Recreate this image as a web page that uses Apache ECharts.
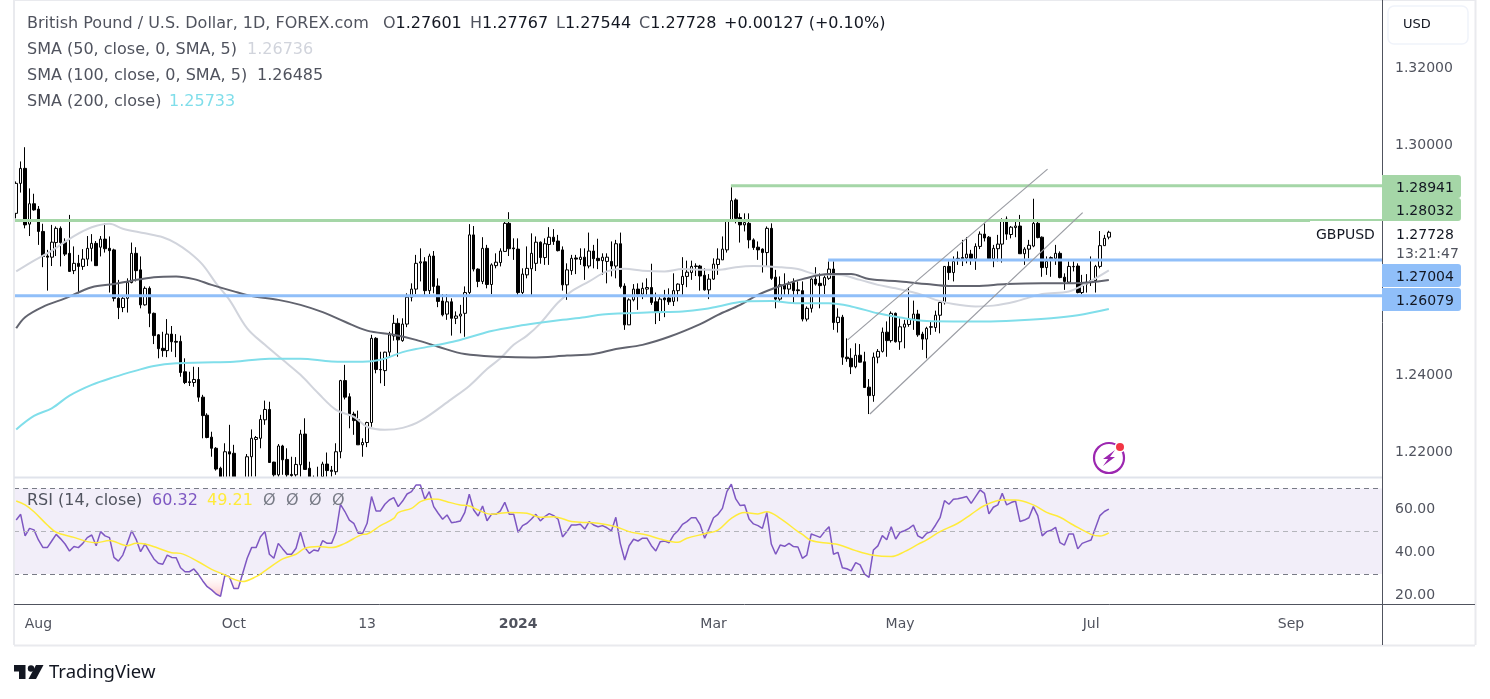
<!DOCTYPE html>
<html>
	<head>
		<meta charset="utf-8">
		<title>GBPUSD</title>
		<style>
			html,body{margin:0;padding:0;background:#fff;}
			#chart{width:1490px;height:699px;}
		</style>
	</head>
	<body>
		<div id="chart"></div>
		<script src="https://cdn.jsdelivr.net/npm/echarts@6/dist/echarts.min.js"></script>
		<script type="text/javascript">
			var FONT = '"DejaVu Sans", "Noto Sans", sans-serif';
			// daily bars: open, high, low, close
			var bars = [
				[1.2822,1.2905,1.2809,1.2900],[1.2900,1.2957,1.2876,1.2939],[1.2939,1.2994,1.2783,1.2792],[1.2794,1.2887,1.2763,1.2847],[1.2847,1.2873,1.2829,1.2831],
				[1.2833,1.2841,1.2740,1.2775],[1.2775,1.2795,1.2682,1.2710],[1.2711,1.2727,1.2621,1.2708],[1.2708,1.2792,1.2685,1.2747],[1.2746,1.2788,1.2711,1.2783],
				[1.2783,1.2788,1.2684,1.2746],[1.2747,1.2757,1.2711,1.2716],[1.2718,1.2818,1.2670,1.2671],[1.2673,1.2736,1.2664,1.2692],[1.2692,1.2714,1.2614,1.2684],
				[1.2684,1.2729,1.2675,1.2703],[1.2703,1.2763,1.2685,1.2731],[1.2731,1.2768,1.2697,1.2744],[1.2744,1.2750,1.2686,1.2686],[1.2734,1.2763,1.2710,1.2755],
				[1.2755,1.2796,1.2720,1.2730],[1.2731,1.2762,1.2616,1.2725],[1.2727,1.2730,1.2593,1.2601],[1.2601,1.2649,1.2547,1.2577],[1.2577,1.2605,1.2565,1.2601],
				[1.2601,1.2653,1.2564,1.2642],[1.2642,1.2746,1.2640,1.2718],[1.2718,1.2734,1.2645,1.2673],[1.2675,1.2710,1.2575,1.2584],[1.2584,1.2632,1.2582,1.2627],
				[1.2627,1.2632,1.2526,1.2562],[1.2562,1.2564,1.2482,1.2504],[1.2506,1.2508,1.2445,1.2470],[1.2471,1.2514,1.2449,1.2465],[1.2465,1.2547,1.2448,1.2508],
				[1.2508,1.2529,1.2462,1.2488],[1.2489,1.2508,1.2448,1.2487],[1.2489,1.2504,1.2397,1.2408],[1.2410,1.2445,1.2378,1.2382],[1.2384,1.2410,1.2373,1.2382],
				[1.2382,1.2423,1.2371,1.2390],[1.2390,1.2422,1.2332,1.2344],[1.2344,1.2350,1.2237,1.2296],[1.2297,1.2302,1.2237,1.2239],[1.2240,1.2254,1.2189,1.2211],
				[1.2211,1.2214,1.2153,1.2157],[1.2159,1.2163,1.2111,1.2120],[1.2129,1.2224,1.2120,1.2202],[1.2202,1.2272,1.2137,1.2196],[1.2198,1.2220,1.2111,1.2120],
				[1.2125,1.2135,1.2075,1.2090],[1.2090,1.2130,1.2037,1.2120],[1.2129,1.2196,1.2120,1.2189],[1.2189,1.2260,1.2137,1.2237],[1.2234,1.2243,1.2137,1.2239],
				[1.2237,1.2298,1.2211,1.2286],[1.2285,1.2335,1.2272,1.2312],[1.2312,1.2332,1.2174,1.2174],[1.2175,1.2176,1.2137,1.2142],[1.2142,1.2222,1.2137,1.2217],
				[1.2217,1.2220,1.2142,1.2181],[1.2182,1.2211,1.2136,1.2142],[1.2143,1.2189,1.2136,1.2140],[1.2142,1.2188,1.2137,1.2169],[1.2168,1.2259,1.2137,1.2248],
				[1.2248,1.2289,1.2156,1.2156],[1.2159,1.2176,1.2120,1.2133],[1.2130,1.2140,1.2110,1.2120],[1.2130,1.2163,1.2110,1.2125],[1.2137,1.2176,1.2133,1.2170],
				[1.2170,1.2200,1.2137,1.2153],[1.2154,1.2165,1.2137,1.2151],[1.2150,1.2224,1.2142,1.2202],[1.2202,1.2389,1.2185,1.2387],[1.2387,1.2428,1.2338,1.2344],
				[1.2345,1.2354,1.2263,1.2298],[1.2300,1.2306,1.2246,1.2283],[1.2285,1.2309,1.2220,1.2220],[1.2220,1.2237,1.2189,1.2226],[1.2226,1.2280,1.2214,1.2278],
				[1.2278,1.2506,1.2267,1.2497],[1.2497,1.2500,1.2406,1.2416],[1.2416,1.2462,1.2380,1.2415],[1.2413,1.2462,1.2373,1.2461],[1.2461,1.2514,1.2449,1.2506],
				[1.2503,1.2558,1.2491,1.2536],[1.2536,1.2549,1.2449,1.2493],[1.2491,1.2549,1.2488,1.2534],[1.2534,1.2614,1.2526,1.2604],[1.2604,1.2640,1.2593,1.2625],
				[1.2625,1.2714,1.2612,1.2692],[1.2693,1.2731,1.2645,1.2696],[1.2696,1.2708,1.2610,1.2621],[1.2621,1.2717,1.2612,1.2711],[1.2711,1.2724,1.2614,1.2632],
				[1.2633,1.2653,1.2578,1.2593],[1.2594,1.2612,1.2554,1.2558],[1.2560,1.2612,1.2545,1.2592],[1.2592,1.2601,1.2504,1.2549],[1.2549,1.2567,1.2534,1.2555],
				[1.2555,1.2584,1.2510,1.2560],[1.2562,1.2632,1.2501,1.2616],[1.2616,1.2794,1.2612,1.2766],[1.2766,1.2789,1.2671,1.2677],[1.2677,1.2679,1.2630,1.2645],
				[1.2645,1.2760,1.2638,1.2731],[1.2731,1.2740,1.2627,1.2637],[1.2637,1.2692,1.2612,1.2688],[1.2686,1.2718,1.2679,1.2695],[1.2694,1.2731,1.2684,1.2724],
				[1.2723,1.2805,1.2723,1.2796],[1.2796,1.2825,1.2711,1.2730],[1.2732,1.2757,1.2701,1.2730],[1.2729,1.2757,1.2610,1.2616],[1.2616,1.2679,1.2612,1.2664],
				[1.2662,1.2736,1.2653,1.2679],[1.2678,1.2770,1.2610,1.2718],[1.2692,1.2762,1.2672,1.2747],[1.2747,1.2749,1.2691,1.2707],[1.2707,1.2757,1.2688,1.2743],
				[1.2741,1.2786,1.2688,1.2760],[1.2760,1.2781,1.2740,1.2749],[1.2750,1.2766,1.2723,1.2725],[1.2727,1.2736,1.2621,1.2636],[1.2636,1.2692,1.2597,1.2675],
				[1.2673,1.2714,1.2662,1.2705],[1.2706,1.2714,1.2664,1.2703],[1.2702,1.2731,1.2688,1.2708],[1.2708,1.2731,1.2649,1.2685],[1.2685,1.2772,1.2679,1.2724],
				[1.2724,1.2740,1.2679,1.2704],[1.2705,1.2756,1.2677,1.2699],[1.2699,1.2718,1.2662,1.2708],[1.2697,1.2718,1.2640,1.2708],[1.2697,1.2749,1.2658,1.2685],
				[1.2685,1.2753,1.2653,1.2743],[1.2743,1.2772,1.2627,1.2632],[1.2633,1.2640,1.2519,1.2532],[1.2532,1.2601,1.2532,1.2597],[1.2597,1.2638,1.2593,1.2625],
				[1.2625,1.2640,1.2571,1.2612],[1.2612,1.2642,1.2599,1.2627],[1.2625,1.2653,1.2606,1.2629],[1.2629,1.2691,1.2584,1.2590],[1.2592,1.2616,1.2534,1.2564],
				[1.2564,1.2607,1.2542,1.2599],[1.2602,1.2623,1.2552,1.2597],[1.2602,1.2627,1.2584,1.2592],[1.2593,1.2666,1.2581,1.2621],[1.2621,1.2640,1.2593,1.2638],
				[1.2637,1.2708,1.2610,1.2658],[1.2658,1.2699,1.2630,1.2669],[1.2668,1.2699,1.2649,1.2684],[1.2685,1.2692,1.2659,1.2684],[1.2685,1.2688,1.2621,1.2659],
				[1.2661,1.2679,1.2621,1.2623],[1.2623,1.2664,1.2599,1.2651],[1.2651,1.2705,1.2649,1.2690],[1.2689,1.2731,1.2662,1.2703],[1.2701,1.2762,1.2701,1.2729],
				[1.2727,1.2807,1.2720,1.2805],[1.2805,1.2890,1.2805,1.2855],[1.2857,1.2861,1.2796,1.2809],[1.2811,1.2822,1.2746,1.2792],[1.2792,1.2822,1.2775,1.2798],
				[1.2796,1.2822,1.2731,1.2753],[1.2753,1.2757,1.2727,1.2733],[1.2734,1.2749,1.2701,1.2727],[1.2729,1.2731,1.2668,1.2720],[1.2720,1.2788,1.2684,1.2783],
				[1.2783,1.2796,1.2649,1.2653],[1.2656,1.2675,1.2575,1.2599],[1.2599,1.2658,1.2593,1.2636],[1.2637,1.2666,1.2610,1.2625],[1.2625,1.2645,1.2610,1.2638],
				[1.2642,1.2653,1.2588,1.2621],[1.2623,1.2645,1.2610,1.2621],[1.2621,1.2645,1.2541,1.2547],[1.2547,1.2580,1.2541,1.2575],[1.2575,1.2653,1.2564,1.2651],
				[1.2651,1.2682,1.2634,1.2638],[1.2640,1.2666,1.2575,1.2634],[1.2635,1.2664,1.2612,1.2655],[1.2653,1.2697,1.2649,1.2677],[1.2677,1.2697,1.2519,1.2538],
				[1.2538,1.2575,1.2512,1.2552],[1.2552,1.2558,1.2428,1.2448],[1.2448,1.2497,1.2436,1.2444],[1.2445,1.2471,1.2404,1.2423],[1.2423,1.2484,1.2419,1.2453],
				[1.2453,1.2482,1.2434,1.2435],[1.2436,1.2462,1.2369,1.2369],[1.2370,1.2391,1.2300,1.2348],[1.2348,1.2460,1.2332,1.2448],[1.2448,1.2469,1.2432,1.2463],
				[1.2463,1.2525,1.2460,1.2513],[1.2513,1.2541,1.2449,1.2491],[1.2491,1.2567,1.2486,1.2562],[1.2562,1.2564,1.2486,1.2488],[1.2488,1.2549,1.2467,1.2527],
				[1.2526,1.2545,1.2471,1.2534],[1.2533,1.2630,1.2527,1.2547],[1.2547,1.2595,1.2519,1.2560],[1.2560,1.2571,1.2501,1.2506],[1.2508,1.2514,1.2467,1.2495],
				[1.2495,1.2527,1.2445,1.2523],[1.2527,1.2541,1.2506,1.2526],[1.2525,1.2569,1.2514,1.2557],[1.2557,1.2593,1.2510,1.2590],[1.2590,1.2685,1.2585,1.2684],
				[1.2684,1.2697,1.2649,1.2668],[1.2668,1.2710,1.2645,1.2697],[1.2705,1.2723,1.2688,1.2704],[1.2707,1.2753,1.2685,1.2704],[1.2706,1.2760,1.2692,1.2716],
				[1.2716,1.2727,1.2688,1.2705],[1.2704,1.2744,1.2675,1.2736],[1.2736,1.2775,1.2729,1.2768],[1.2768,1.2796,1.2749,1.2758],[1.2760,1.2763,1.2703,1.2704],
				[1.2704,1.2740,1.2682,1.2731],[1.2730,1.2766,1.2697,1.2742],[1.2742,1.2809,1.2694,1.2805],[1.2807,1.2814,1.2753,1.2768],[1.2767,1.2789,1.2757,1.2786],
				[1.2785,1.2805,1.2760,1.2789],[1.2789,1.2818,1.2717,1.2717],[1.2717,1.2734,1.2688,1.2729],[1.2729,1.2753,1.2705,1.2739],[1.2737,1.2860,1.2734,1.2796],
				[1.2796,1.2807,1.2757,1.2759],[1.2760,1.2762,1.2657,1.2681],[1.2681,1.2710,1.2662,1.2697],[1.2704,1.2710,1.2657,1.2707],[1.2705,1.2740,1.2688,1.2718],
				[1.2718,1.2723,1.2653,1.2655],[1.2656,1.2666,1.2623,1.2645],[1.2643,1.2697,1.2640,1.2684],[1.2683,1.2697,1.2671,1.2684],[1.2685,1.2692,1.2614,1.2616],
				[1.2616,1.2662,1.2612,1.2638],[1.2638,1.2664,1.2616,1.2643],[1.2642,1.2710,1.2633,1.2647],[1.2647,1.2688,1.2616,1.2684],[1.2684,1.2776,1.2679,1.2738],
				[1.2738,1.2766,1.2738,1.2757],[1.27601,1.27767,1.27544,1.27728]
			];
			var rsi = [
				55.2,57.9,47.8,51.3,50.6,45.9,42.4,42.3,45.4,48.5,46.4,44.0,40.7,42.8,42.3,44.3,47.0,48.2,43.2,49.8,
				47.8,47.0,37.7,36.0,38.8,44.3,50.2,46.2,40.4,44.0,40.4,37.0,35.0,34.5,38.8,37.7,37.6,32.9,31.0,31.0,
				32.3,29.8,26.7,24.0,22.5,20.6,19.5,29.5,28.7,23.2,23.2,30.3,37.3,42.3,42.3,47.4,49.8,39.2,37.3,44.3,
				41.7,39.2,39.2,42.0,49.5,42.3,39.6,41.2,40.7,45.6,44.3,44.3,49.5,62.6,59.2,55.2,53.7,49.0,49.0,53.7,
				66.2,59.5,59.5,62.6,64.6,65.7,61.5,64.1,67.4,68.5,71.6,71.6,64.9,68.5,61.5,58.4,55.6,57.6,54.0,54.3,
				54.8,58.8,67.3,59.9,57.1,61.8,54.9,57.9,57.9,59.5,63.5,57.9,57.9,49.5,52.6,53.7,55.7,57.9,54.8,56.8,
				58.2,57.3,55.6,47.3,49.8,52.9,52.9,53.2,51.0,54.5,52.9,52.1,52.6,51.6,50.1,56.5,44.3,36.5,43.2,46.2,
				45.4,46.7,46.7,43.2,40.7,45.1,45.4,44.6,48.2,50.2,53.2,54.5,56.3,56.3,52.9,46.7,51.3,56.3,57.9,60.7,
				68.5,72.0,65.1,62.0,62.3,55.7,53.4,52.6,51.3,58.8,44.0,39.2,43.5,42.9,44.3,42.8,42.6,37.3,38.8,48.7,
				47.9,47.1,49.8,52.1,39.2,40.1,32.9,32.4,31.4,35.3,34.2,29.9,28.4,41.2,43.1,47.9,46.0,52.1,46.3,49.5,
				50.2,51.3,52.9,47.8,46.7,49.0,49.8,52.9,56.3,64.3,62.6,64.9,65.2,65.7,66.2,63.0,66.2,69.3,67.7,58.1,
				61.2,62.3,67.7,62.3,63.4,64.1,54.5,55.2,56.3,61.5,57.3,47.8,49.8,50.4,51.8,44.6,43.5,48.7,48.7,41.7,
				44.3,45.1,45.9,51.6,57.3,59.2,60.32
			];
			// moving averages: [bar, value]
			var sma50 = [[0,1.2671],[4,1.2699],[8,1.2725],[13,1.2763],[17,1.2786],[21,1.2795],[24,1.2782],[29,1.2770],[33,1.2760],[36,1.2744],[39,1.2720],[42,1.2688],[45,1.2640],[48,1.2597],[52,1.2523],[56,1.2480],[60,1.2441],[64,1.2402],[68,1.2354],[72,1.2311],[76,1.2293],[79,1.2267],[83,1.2259],[87,1.2264],[91,1.2282],[98,1.2339],[102,1.2373],[106,1.2417],[109,1.2445],[112,1.2480],[115,1.2504],[118,1.2536],[122,1.2590],[125,1.2619],[129,1.2645],[133,1.2671],[137,1.2678],[141,1.2673],[146,1.2671],[150,1.2677],[155,1.2675],[158,1.2675],[162,1.2682],[166,1.2685],[172,1.2682],[176,1.2677],[181,1.2662],[185,1.2662],[190,1.2649],[194,1.2636],[198,1.2627],[204,1.2610],[207,1.2597],[211,1.2586],[216,1.2580],[220,1.2582],[225,1.2593],[231,1.2612],[237,1.2619],[241,1.2640],[246,1.26736]];
			var sma100 = [[0,1.2523],[2,1.2552],[6,1.2579],[11,1.2601],[17,1.2630],[22,1.2638],[26,1.2647],[31,1.2656],[36,1.2658],[40,1.2651],[44,1.2636],[49,1.2619],[53,1.2607],[59,1.2597],[64,1.2584],[69,1.2565],[74,1.2540],[79,1.2517],[85,1.2506],[90,1.2493],[95,1.2475],[101,1.2456],[109,1.2449],[116,1.2447],[124,1.2452],[130,1.2456],[135,1.2469],[141,1.2480],[147,1.2501],[154,1.2534],[158,1.2558],[163,1.2584],[167,1.2610],[172,1.2633],[177,1.2651],[183,1.2664],[188,1.2664],[192,1.2651],[199,1.2645],[205,1.2638],[210,1.2633],[216,1.2633],[223,1.2638],[231,1.2640],[238,1.2640],[246,1.26485]];
			var sma200 = [[0,1.2260],[4,1.2295],[8,1.2315],[12,1.2348],[17,1.2376],[22,1.2396],[27,1.2413],[31,1.2425],[36,1.2432],[42,1.2434],[49,1.2436],[57,1.2444],[64,1.2444],[71,1.2437],[78,1.2436],[82,1.2441],[87,1.2461],[90,1.2469],[95,1.2480],[99,1.2490],[103,1.2503],[107,1.2516],[113,1.2529],[117,1.2536],[123,1.2545],[128,1.2552],[132,1.2559],[137,1.2562],[143,1.2565],[150,1.2567],[155,1.2573],[158,1.2580],[164,1.2593],[170,1.2594],[176,1.2588],[183,1.2588],[188,1.2580],[194,1.2562],[199,1.2551],[205,1.2542],[211,1.2541],[218,1.2541],[226,1.2544],[233,1.2549],[239,1.2557],[246,1.25733]];
			var rsiMa = [[0,64.1],[2,62.3],[4,59.1],[7,52.9],[9,49.5],[13,47.1],[16,45.1],[18,44.6],[21,45.6],[25,43.2],[27,44.3],[29,44.0],[32,42.0],[35,39.9],[37,39.6],[41,35.7],[44,32.1],[47,29.5],[49,27.5],[51,26.4],[54,28.7],[56,31.4],[60,37.0],[63,39.2],[65,42.0],[68,42.8],[71,42.3],[74,44.3],[78,48.5],[79,48.7],[82,52.6],[85,56.0],[86,58.7],[89,60.7],[91,63.8],[93,65.1],[95,64.9],[97,63.8],[100,62.3],[102,61.8],[104,59.9],[107,57.9],[111,58.8],[115,58.4],[118,56.5],[121,56.8],[125,54.5],[127,54.2],[131,53.7],[135,52.1],[138,49.8],[142,48.2],[145,46.3],[149,44.8],[151,46.7],[155,48.8],[158,50.5],[161,56.0],[164,58.7],[167,58.1],[169,59.1],[172,56.0],[176,49.8],[177,48.5],[179,45.6],[183,44.3],[185,43.8],[189,40.9],[193,38.7],[197,38.1],[200,40.4],[203,43.8],[205,45.9],[208,49.8],[212,53.7],[215,57.9],[218,62.0],[222,64.6],[225,64.6],[229,62.3],[232,58.8],[235,56.5],[238,52.9],[242,48.5],[244,47.7],[246,49.21]];
			// drawn levels and the rising channel
			var levels = [
				{value:1.28941,from:161.4,color:'#a5d6a7'},
				{value:1.28032,from:0,color:'#a5d6a7'},
				{value:1.27004,from:183.3,color:'#90bff9'},
				{value:1.26079,from:0,color:'#90bff9'}
			];
			var channel = [
				[[187.7,1.2493],[232.7,1.2937]],
				[[192.7,1.2300],[240.6,1.2824]]
			];
			var SLOTS = 308;
			var timeLabels = {5:'Aug',49:'Oct',79:'13',113:'2024',157:'Mar',199:'May',242:'Jul',287:'Sep'};
			var cats = [],i;
			for(i = 0;i < SLOTS;i++){
				cats.push(timeLabels[i] || '');
			}
			var candle = bars.map(function(b){
				return [b[0],b[3],b[2],b[1]];
			});
			var oversold = rsi.map(function(v,idx){
				return [idx,Math.min(v,30)];
			});

			var maLine = function(name,data,color){
				return {name:name,type:'line',data:data,symbol:'none',z:4,silent:true,smooth:0.35,
					lineStyle:{color:color,width:2}};
			};
			var series = [
				{name:'GBPUSD',type:'candlestick',data:candle,barWidth:3,z:3,
					itemStyle:{color:'#ffffff',color0:'#000000',borderColor:'#000000',borderColor0:'#000000',borderWidth:1}},
				maLine('SMA 50',sma50,'#d1d4dc'),
				maLine('SMA 100',sma100,'#62646f'),
				maLine('SMA 200',sma200,'#80deea')
			];
			levels.forEach(function(l){
				series.push({type:'line',xAxisIndex:2,symbol:'none',z:5,silent:true,
					data:[[l.from,l.value],[SLOTS,l.value]],
					lineStyle:{color:l.color,width:3}});
			});
			channel.forEach(function(c){
				series.push({type:'line',xAxisIndex:2,symbol:'none',z:5,silent:true,
					data:c,lineStyle:{color:'#9a9ca3',width:1.2}});
			});
			series.push({name:'oversold',type:'line',xAxisIndex:1,yAxisIndex:1,data:oversold,symbol:'none',z:2,silent:true,
				lineStyle:{width:0},
				areaStyle:{origin:30,color:new echarts.graphic.LinearGradient(0,0,0,1,[{offset:0,color:'rgba(255,255,255,0.2)'},{offset:1,color:'rgba(255,150,150,0.75)'}])},
				markArea:{silent:true,itemStyle:{color:'rgba(126,87,194,0.1)'},data:[[{yAxis:70},{yAxis:30}]]},
				markLine:{silent:true,symbol:'none',label:{show:false},
					data:[
						{yAxis:70,lineStyle:{color:'#787b86',type:[5,4],width:1}},
						{yAxis:50,lineStyle:{color:'#b4b5bb',type:[5,4],width:1}},
						{yAxis:30,lineStyle:{color:'#787b86',type:[5,4],width:1}}
					]}
			});
			series.push({name:'RSI',type:'line',xAxisIndex:1,yAxisIndex:1,symbol:'none',z:4,silent:true,
				data:rsi.map(function(v,idx){return [idx,v];}),lineStyle:{color:'#7e57c2',width:1.5}});
			series.push({name:'RSI MA',type:'line',xAxisIndex:1,yAxisIndex:1,symbol:'none',z:5,silent:true,smooth:0.35,
				data:rsiMa,lineStyle:{color:'#ffeb3b',width:1.5}});

			var tag = function(y,color,txt){
				return {type:'group',z:20,children:[
					{type:'rect',z:20,shape:{x:1382,y:y,width:79,height:23,r:[0,3,3,0]},style:{fill:color}},
					{type:'text',z:21,style:{x:1396,y:y+13,text:txt,font:'14px '+FONT,fill:'#131722',verticalAlign:'middle'}}
				]};
			};
			var txt = function(x,y,str,color,size){
				return {type:'text',z:20,style:{x:x,y:y,text:str,font:(size || 14)+'px '+FONT,fill:color,verticalAlign:'middle'}};
			};
			var rule = function(x1,y1,x2,y2,color,w){
				return {type:'line',z:18,shape:{x1:x1,y1:y1,x2:x2,y2:y2},style:{stroke:color,lineWidth:w || 1}};
			};
			var quote = function(x,letter,val){
				return {type:'text',z:20,style:{x:x,y:24,verticalAlign:'middle',text:'{g|'+letter+'}{k|'+val+'}',font:'16px '+FONT,
					rich:{g:{fill:'#50535e',font:'16px '+FONT},k:{fill:'#131722',font:'16px '+FONT}}}};
			};
			var graphics = [
				// candles that run below the pane stop at its edge
				{type:'rect',z:3.5,shape:{x:14,y:478,width:1368,height:10},style:{fill:'#ffffff'}},
				// frame and pane borders
				rule(14,0,1475,0,'#e9eaee',2),
				rule(14,0,14,645,'#e9eaee',2),
				rule(1475.5,0,1475.5,645,'#e9eaee',2),
				rule(14,645.5,1475,645.5,'#e9eaee',2),
				rule(14,477.5,1382,477.5,'#e0e3eb',2),
				rule(14,604.5,1475,604.5,'#50535e',1),
				rule(1382.5,0,1382.5,645,'#50535e',1),
				// legend
				txt(27,24,'British Pound / U.S. Dollar, 1D, FOREX.com','#50535e',16),
				quote(383,'O','1.27601'),
				quote(470,'H','1.27767'),
				quote(556,'L','1.27544'),
				quote(639,'C','1.27728'),
				quote(724,'','+0.00127 (+0.10%)'),
				txt(27,50,'SMA (50, close, 0, SMA, 5)','#50535e',16),
				txt(247,50,'1.26736','#d1d4dc',16),
				txt(27,76,'SMA (100, close, 0, SMA, 5)','#50535e',16),
				txt(257,76,'1.26485','#50535e',16),
				txt(27,102,'SMA (200, close)','#50535e',16),
				txt(169,102,'1.25733','#80deea',16),
				txt(27,501,'RSI (14, close)','#50535e',16),
				txt(152,501,'60.32','#7e57c2',16),
				txt(207,501,'49.21','#ffeb3b',16),
				txt(263,501,'Ø','#787b86',16),
				txt(286,501,'Ø','#787b86',16),
				txt(309,501,'Ø','#787b86',16),
				txt(332,501,'Ø','#787b86',16),
				// USD button
				{type:'rect',z:20,shape:{x:1388,y:6,width:80,height:38,r:6},style:{fill:'#ffffff',stroke:'#f0f3fa',lineWidth:1.5}},
				txt(1403,25,'USD','#131722',13),
				// price tags
				tag(175,'#a5d6a7','1.28941'),
				tag(198,'#a5d6a7','1.28032'),
				tag(264,'#90bff9','1.27004'),
				tag(288,'#90bff9','1.26079'),
				{type:'rect',z:19,shape:{x:1310,y:221,width:72,height:25},style:{fill:'#ffffff'}},
				txt(1316,235,'GBPUSD','#131722',14),
				txt(1396,235,'1.27728','#131722',14),
				txt(1396,254,'13:21:47','#50535e',14),
				// lightning badge
				{type:'circle',z:20,shape:{cx:1109,cy:458,r:15},style:{fill:'none',stroke:'#9c27b0',lineWidth:2.2}},
				{type:'polygon',z:21,shape:{points:[[1115,450],[1103,459],[1108,459],[1103,466],[1115,457],[1110,457]]},style:{fill:'#9c27b0'}},
				{type:'circle',z:21,shape:{cx:1120,cy:447,r:5.5},style:{fill:'#ffffff'}},
				{type:'circle',z:22,shape:{cx:1120,cy:447,r:4},style:{fill:'#f23645'}},
				// TradingView mark
				{type:'polygon',z:20,shape:{points:[[14,665],[25.5,665],[25.5,679],[19,679],[19,671.5],[14,671.5]]},style:{fill:'#131722'}},
				{type:'circle',z:20,shape:{cx:31,cy:668.5,r:3.2},style:{fill:'#131722'}},
				{type:'polygon',z:20,shape:{points:[[36,665],[43.5,665],[36,679],[28.5,679]]},style:{fill:'#131722'}},
				{type:'text',z:20,style:{x:49,y:673,text:'TradingView',font:'18.5px "Noto Sans", sans-serif',fill:'#131722',verticalAlign:'middle'}}
			];

			var myChart = echarts.init(document.getElementById('chart'));
			var option = {
				animation:false,
				backgroundColor:'#ffffff',
				textStyle:{fontFamily:FONT},
				grid:[
					{left:14,right:108,top:0,height:477},
					{left:14,right:108,top:478,height:126}
				],
				xAxis:[
					{type:'category',gridIndex:0,data:cats,axisLine:{show:false},axisTick:{show:false},axisLabel:{show:false},splitLine:{show:false}},
					{type:'category',gridIndex:1,data:cats,axisLine:{show:false},axisTick:{show:false},splitLine:{show:false},
						axisLabel:{interval:0,margin:13,fontSize:14,color:'#50535e',hideOverlap:false,fontFamily:FONT,
							formatter:function(v){
								return v == '2024' ? '{y|2024}' : v;
							},
							rich:{y:{fontSize:14,fontWeight:'bold',color:'#50535e',fontFamily:FONT}}}},
					{type:'value',gridIndex:0,min:0,max:SLOTS,show:false,splitLine:{show:false}}
				],
				yAxis:[
					{type:'value',gridIndex:0,position:'right',min:1.21363,max:1.33769,scale:true,splitLine:{show:false},
						axisLine:{show:false},axisTick:{show:false},
						axisLabel:{margin:13,fontSize:14,color:'#50535e',fontFamily:FONT,customValues:[1.22,1.24,1.30,1.32],
							formatter:function(v){return v.toFixed(5);}}},
					{type:'value',gridIndex:1,position:'right',min:15.9,max:74.9,scale:true,splitLine:{show:false},
						axisLine:{show:false},axisTick:{show:false},
						axisLabel:{margin:13,fontSize:14,color:'#50535e',fontFamily:FONT,customValues:[20,40,60],
							formatter:function(v){return v.toFixed(2);}}}
				],
				series:series,
				graphic:graphics
			};
			myChart.setOption(option);
		</script>
	</body>
</html>
